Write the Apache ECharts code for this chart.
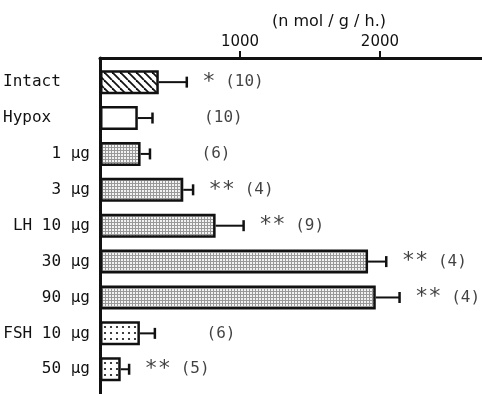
<!DOCTYPE html>
<html><head><meta charset="utf-8">
<script src="https://cdn.jsdelivr.net/npm/echarts@6/dist/echarts.min.js"></script>
<style>html,body{margin:0;padding:0;background:#fff}#c{width:482px;height:394px}</style>
</head><body><div id="c"></div>
<script>
// ---- data ----
const categories = ['Intact', 'Hypox', '1 μg', '3 μg', 'LH 10 μg', '30 μg', '90 μg', 'FSH 10 μg', '50 μg'];
const means = [420, 270, 290, 595, 826, 1915, 1970, 285, 148];
const errors = [200, 105, 67, 70, 200, 130, 170, 107, 60];
const stars = ['*', '', '', '**', '**', '**', '**', '', '**'];
const counts = [10, 10, 6, 4, 9, 4, 4, 6, 5];
const xTicks = [1000, 2000];
const xMax = 2729;
const unitLabel = '(n mol / g / h.)';

// ---- styles ----
const fills = ['hatch', 'plain', 'grid', 'grid', 'grid', 'grid', 'grid', 'dots', 'dots'];
const INK = '#111';
function makePattern(kind) {
  const c = document.createElement('canvas');
  const ctx = c.getContext('2d');
  if (kind === 'hatch') {
    c.width = 8; c.height = 8;
    ctx.fillStyle = '#fff'; ctx.fillRect(0, 0, 8, 8);
    ctx.strokeStyle = INK; ctx.lineWidth = 1.8;
    for (const o of [-8, 0, 8]) { ctx.beginPath(); ctx.moveTo(o, 0); ctx.lineTo(o + 8, 8); ctx.stroke(); }
  } else if (kind === 'grid') {
    c.width = 3; c.height = 3;
    ctx.fillStyle = '#f2f2f2'; ctx.fillRect(0, 0, 3, 3);
    ctx.fillStyle = '#999'; ctx.fillRect(0, 0, 3, 1); ctx.fillRect(0, 0, 1, 3);
  } else if (kind === 'dots') {
    c.width = 6; c.height = 6;
    ctx.fillStyle = '#fff'; ctx.fillRect(0, 0, 6, 6);
    ctx.fillStyle = INK; ctx.beginPath(); ctx.arc(3, 3, 1.1, 0, Math.PI * 2); ctx.fill();
  } else {
    c.width = 2; c.height = 2;
    ctx.fillStyle = '#fff'; ctx.fillRect(0, 0, 2, 2);
  }
  return { image: c, repeat: 'repeat' };
}
const patterns = {};
['hatch', 'grid', 'dots', 'plain'].forEach(k => patterns[k] = makePattern(k));

const chart = echarts.init(document.getElementById('c'), null, { renderer: 'canvas' });
const mono = 'DejaVu Sans Mono';
const sans = 'DejaVu Sans';

chart.setOption({
  animation: false,
  backgroundColor: '#fff',
  grid: [
    { left: 100, right: 0, top: 58, bottom: 0 },
    { left: 100, right: 0, top: 64.2, height: 323 }
  ],
  xAxis: [
    {
      gridIndex: 0, type: 'value', position: 'top', min: 0, max: xMax,
      name: unitLabel, nameLocation: 'middle', nameGap: 28, nameMoveOverlap: false,
      nameTextStyle: { fontFamily: sans, fontSize: 16, color: INK, padding: [0, 0, 0, 76] },
      axisLine: { show: true, onZero: false, lineStyle: { color: INK, width: 3 } },
      axisTick: { show: true, customValues: xTicks, length: 7, lineStyle: { color: INK, width: 2 } },
      axisLabel: { show: true, customValues: xTicks, formatter: v => String(v), margin: 8, fontFamily: sans, fontSize: 15, color: INK },
      splitLine: { show: false }
    },
    { gridIndex: 1, type: 'value', min: 0, max: xMax, show: false }
  ],
  yAxis: [
    {
      gridIndex: 0, type: 'value', min: 0, max: 1,
      axisLine: { show: true, onZero: false, lineStyle: { color: INK, width: 3 } },
      axisTick: { show: false }, axisLabel: { show: false }, splitLine: { show: false }
    },
    {
      gridIndex: 1, type: 'category', data: categories, inverse: true,
      axisLine: { show: false }, axisTick: { show: false }, splitLine: { show: false },
      axisLabel: {
        margin: 10, fontFamily: mono, fontSize: 16, color: INK,
        formatter: (v, i) => i < 2 ? '{l|' + v + '}' : v,
        rich: { l: { width: 87, align: 'left', fontFamily: mono, fontSize: 16, color: INK } }
      }
    }
  ],
  series: [
    {
      type: 'bar', xAxisIndex: 1, yAxisIndex: 1, barWidth: 24,
      itemStyle: { borderColor: INK, borderWidth: 2.5 },
      data: means.map((v, i) => ({ value: v, itemStyle: { color: patterns[fills[i]] } })),
      silent: true
    },
    {
      type: 'custom', xAxisIndex: 1, yAxisIndex: 1, silent: true,
      encode: { x: 0, y: 1 },
      data: means.map((v, i) => [v, i, errors[i]]),
      renderItem(params, api) {
        const x0 = api.value(0), idx = api.value(1), e = api.value(2);
        const p0 = api.coord([x0, idx]);
        const p1 = api.coord([x0 + e, idx]);
        return {
          type: 'group', children: [
            { type: 'line', shape: { x1: p0[0], y1: p0[1], x2: p1[0], y2: p1[1] }, style: { stroke: INK, lineWidth: 2 } },
            { type: 'line', shape: { x1: p1[0], y1: p1[1] - 5.5, x2: p1[0], y2: p1[1] + 5.5 }, style: { stroke: INK, lineWidth: 2.5 } }
          ]
        };
      }
    },
    {
      type: 'scatter', xAxisIndex: 1, yAxisIndex: 1, silent: true,
      symbolSize: 1, itemStyle: { color: 'rgba(0,0,0,0)' },
      data: means.map((v, i) => [v + errors[i], i]),
      label: {
        show: true, position: 'right', distance: 15, color: INK,
        fontFamily: mono, fontSize: 16,
        formatter: p => {
          const s = stars[p.dataIndex];
          const head = s ? '{s|' + s + '}' : '{h|**}';
          return head + '{n| (' + counts[p.dataIndex] + ')}';
        },
        rich: {
          s: { fontFamily: mono, fontSize: 22, color: INK },
          h: { fontFamily: mono, fontSize: 22, color: 'rgba(0,0,0,0)' },
          n: { fontFamily: mono, fontSize: 16, color: INK }
        }
      }
    }
  ]
});
</script>
</body></html>
